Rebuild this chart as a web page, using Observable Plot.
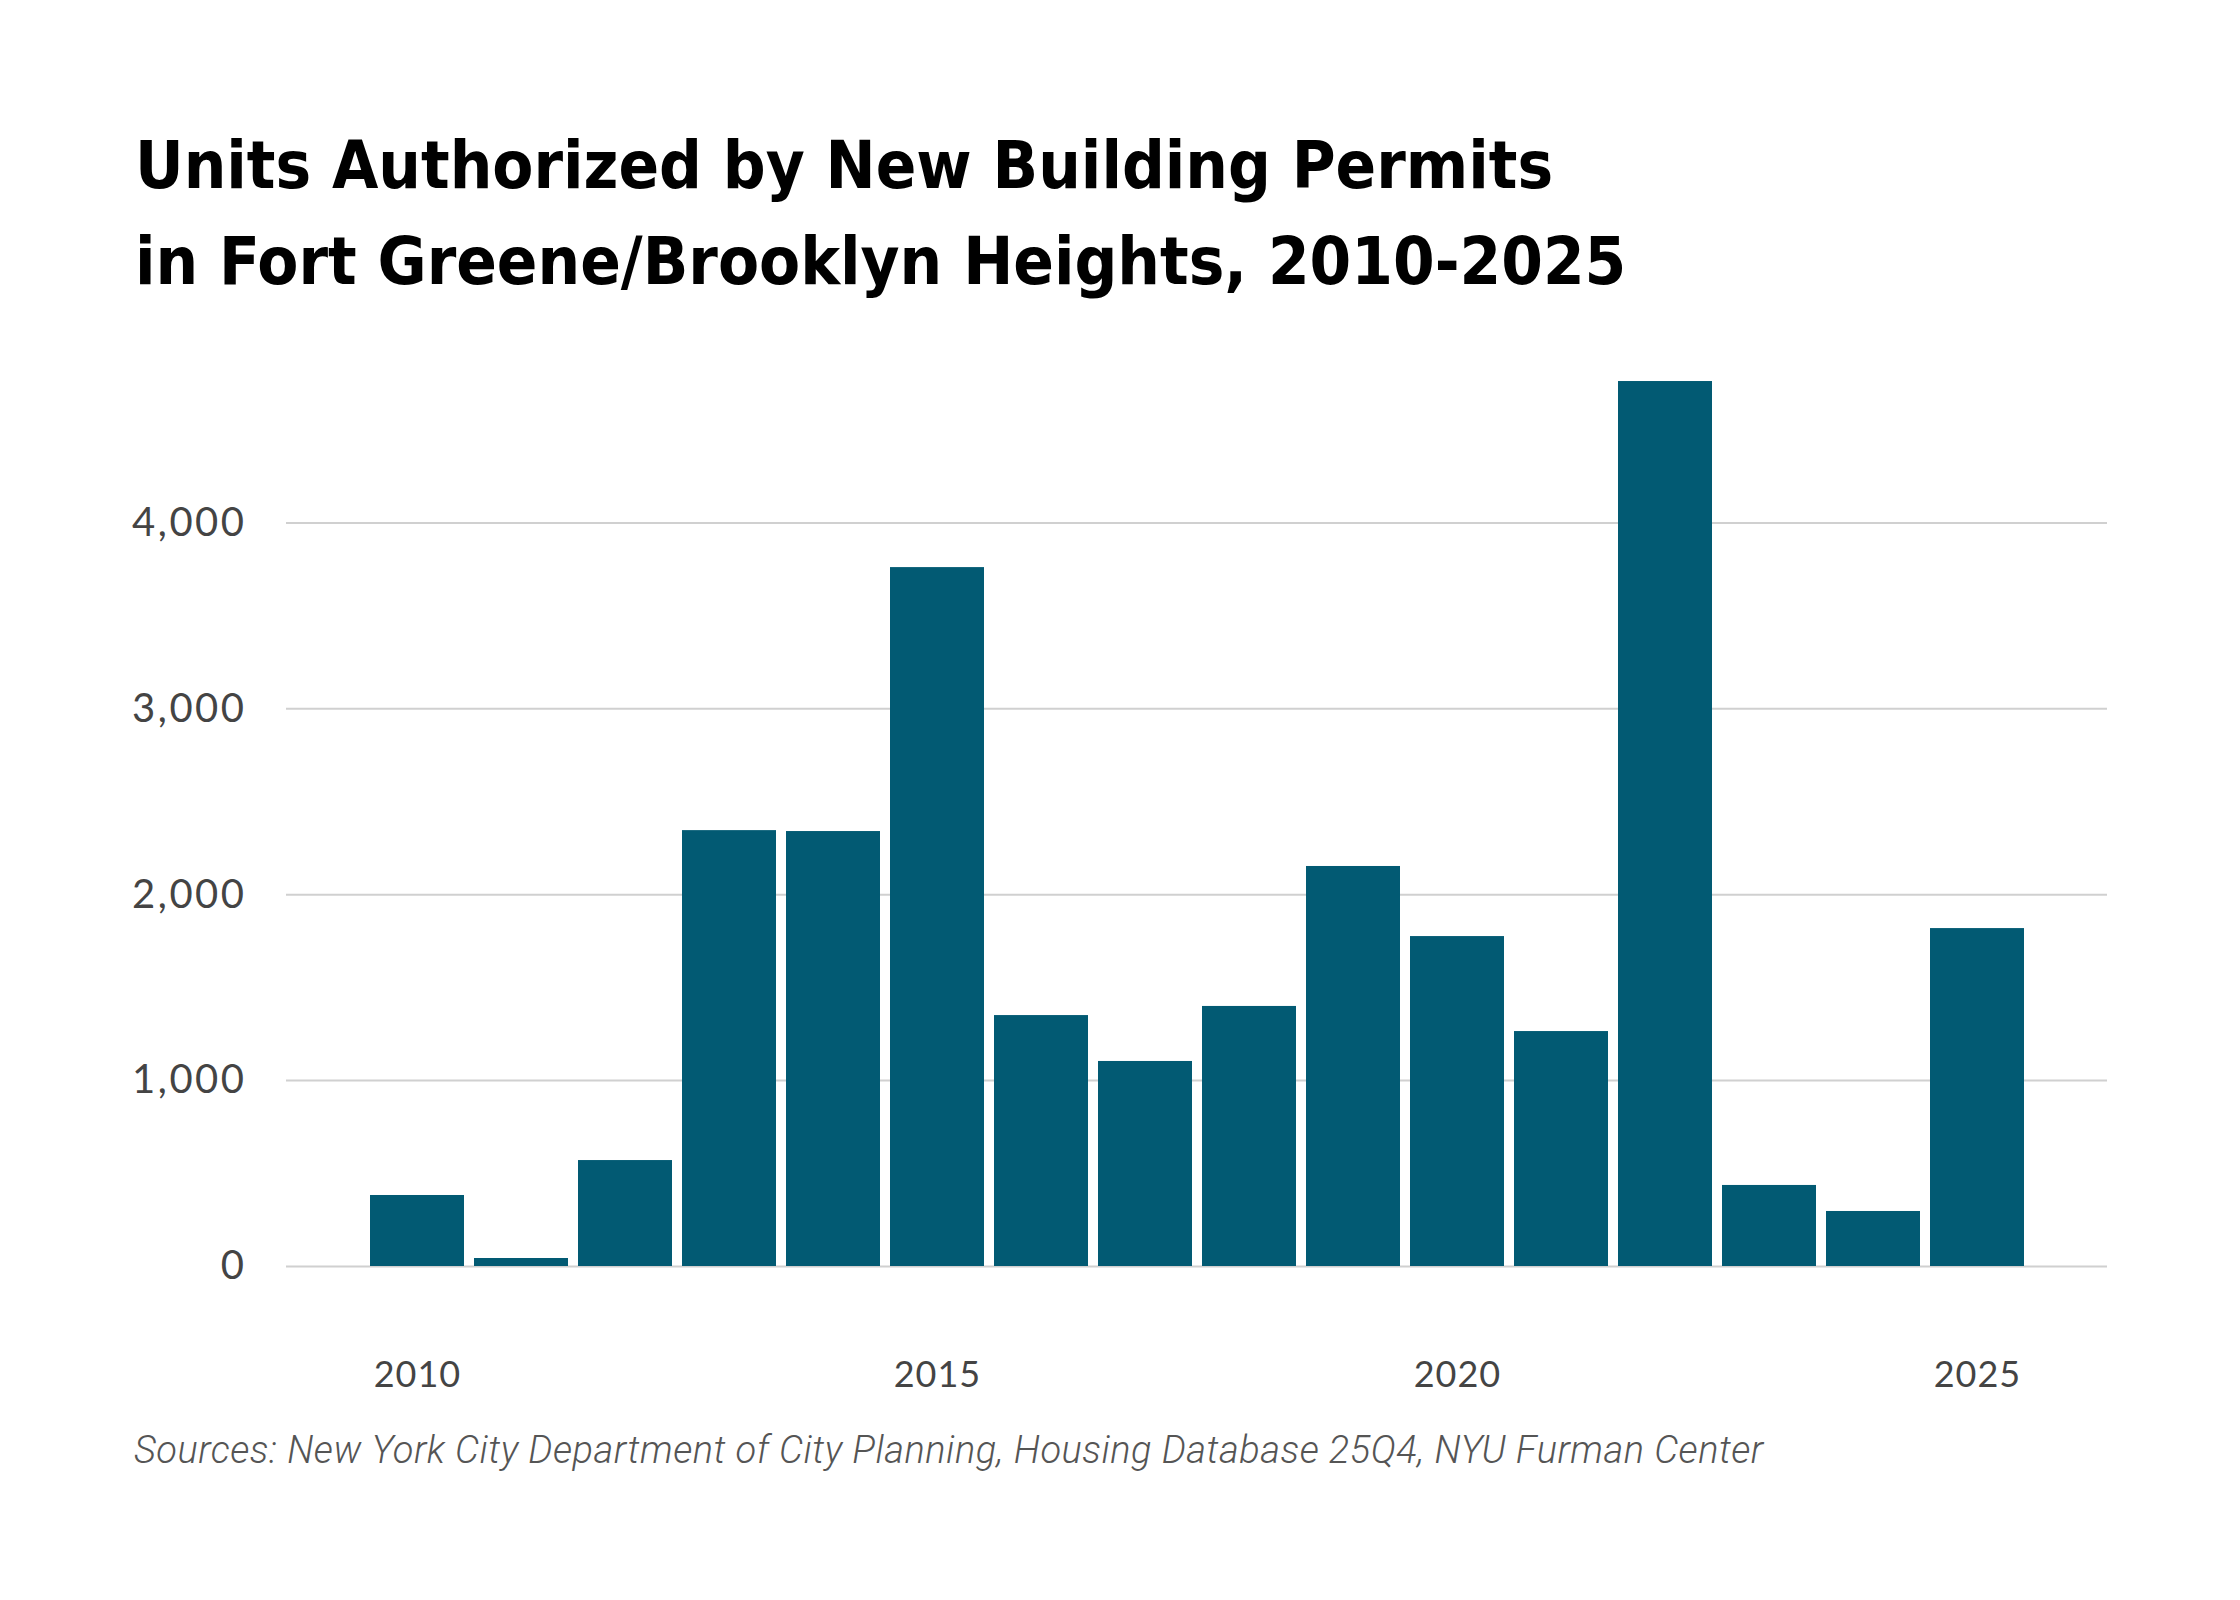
<!DOCTYPE html>
<html>
<head>
<meta charset="utf-8">
<script src="https://cdn.jsdelivr.net/npm/d3@7"></script>
<script src="https://cdn.jsdelivr.net/npm/@observablehq/plot@0.6"></script>
<style>
  html, body { margin: 0; padding: 0; background: #fff; }
  #page { position: relative; width: 2240px; height: 1600px; background: #fff; overflow: hidden; }
  #title {
    position: absolute; left: 135px; top: 117px;
    font-family: "Liberation Sans Narrow", "DejaVu Sans Condensed", "DejaVu Sans", sans-serif;
    font-stretch: condensed;
    font-weight: 700; font-size: 66.6px; line-height: 96px; color: #000;
    white-space: nowrap;
  }
  #chart { position: absolute; left: 0; top: 300px; }
  #caption {
    position: absolute; left: 134px; top: 1431px;
    font-family: Roboto, "Open Sans", sans-serif; font-style: italic; font-weight: 300;
    font-size: 38px; line-height: 38px; letter-spacing: 0.5px; color: #555; white-space: nowrap;
  }
  #chart svg g[aria-label="y-axis tick label"] text { letter-spacing: 2.5px; }
  #chart svg g[aria-label="x-axis tick label"] text { letter-spacing: 1px; }
</style>
</head>
<body>
<div id="page">
  <div id="title">Units Authorized by New Building Permits<br>in Fort Greene/Brooklyn Heights, 2010-2025</div>
  <div id="chart"></div>
  <div id="caption">Sources: New York City Department of City Planning, Housing Database 25Q4, NYU Furman Center</div>
</div>
<script>
const years = [2010, 2011, 2012, 2013, 2014, 2015, 2016, 2017, 2018, 2019, 2020, 2021, 2022, 2023, 2024, 2025];
const units = [382, 43, 570, 2345, 2340, 3760, 1350, 1103, 1399, 2152, 1775, 1264, 4761, 436, 296, 1818];
const yTicks = [0, 1000, 2000, 3000, 4000];
const xTicks = [2010, 2015, 2020, 2025];

const data = years.map((year, i) => ({year, units: units[i]}));

const chart = Plot.plot({
  width: 2240,
  height: 1100,
  marginTop: 36.6,
  marginBottom: 134,
  marginLeft: 286,
  marginRight: 133,
  style: {fontFamily: "Lato, 'Open Sans', sans-serif", fontSize: "36px", color: "#444", background: "#fff"},
  x: {type: "band", domain: years, paddingInner: 0.1, paddingOuter: 0.79, label: null},
  y: {domain: [0, 5000], label: null},
  marks: [
    Plot.gridY(yTicks, {stroke: "#d0d0d0", strokeOpacity: 1, strokeWidth: 2}),
    Plot.barY(data, {x: "year", y: "units", fill: "#025a73"}),
    Plot.axisY(yTicks, {tickSize: 0, tickPadding: 40, tickFormat: d3.format(","), fontSize: 40, fill: "#444", label: null}),
    Plot.axisX(xTicks, {tickSize: 0, tickPadding: 95, tickFormat: d => String(d), fontSize: 36, fill: "#444", label: null})
  ]
});
document.getElementById("chart").appendChild(chart);
</script>
</body>
</html>
